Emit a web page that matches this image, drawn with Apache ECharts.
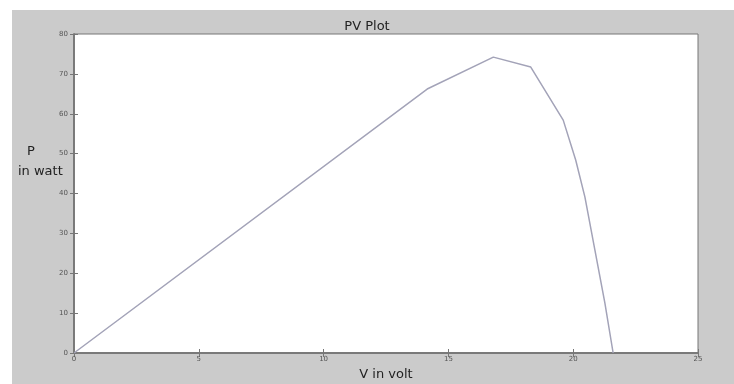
<!DOCTYPE html>
<html>
<head>
<meta charset="utf-8">
<script src="https://cdn.jsdelivr.net/npm/echarts@6/dist/echarts.min.js"></script>
<style>
  html, body { margin: 0; padding: 0; background: #fff; }
  #main { width: 734px; height: 384px; }
</style>
</head>
<body>
<div id="main"></div>
<script>
var voltage = [0, 14.15, 16.8, 18.3, 19.6, 20.1, 20.47, 20.87, 21.27, 21.6];
var power = [0, 66.2, 74.2, 71.7, 58.4, 48.4, 39.1, 25.8, 12.5, 0];

var points = [];
for (var i = 0; i < voltage.length; i++) {
    points.push([voltage[i], power[i]]);
}

var myChart = echarts.init(document.getElementById('main'));

var tickStyle = { show: true, inside: true, length: 4, lineStyle: { color: '#777' } };
var lineAxis = { show: true, lineStyle: { color: '#777', width: 1.5 } };
var labelStyle = { fontSize: 7, color: '#555', fontFamily: 'DejaVu Sans' };
var textFont = 'DejaVu Sans';

option = {
    animation: false,
    backgroundColor: '#fff',
    graphic: [{
        type: 'rect',
        z: -10,
        shape: { x: 12, y: 10, width: 722, height: 374 },
        style: { fill: '#cbcbcb' }
    }, {
        type: 'text',
        left: 27, top: 145,
        style: { text: 'P', fontSize: 13, fill: '#222', fontFamily: textFont }
    }, {
        type: 'text',
        left: 18, top: 165,
        style: { text: 'in watt', fontSize: 13, fill: '#222', fontFamily: textFont }
    }],
    title: {
        text: 'PV Plot',
        left: 'center',
        top: 15,
        textStyle: { fontSize: 13, fontWeight: 'normal', color: '#222', fontFamily: textFont }
    },
    grid: {
        left: 74, top: 34, right: 36, bottom: 31,
        outerBoundsMode: 'none',
        show: true,
        backgroundColor: '#fff',
        borderColor: '#777',
        borderWidth: 1
    },
    xAxis: [{
        type: 'value',
        min: 0, max: 25, interval: 5,
        name: 'V in volt',
        nameLocation: 'middle',
        nameGap: 13,
        nameTextStyle: { fontSize: 13, color: '#222', fontFamily: textFont },
        axisLine: lineAxis,
        axisTick: tickStyle,
        axisLabel: Object.assign({ margin: 3 }, labelStyle),
        splitLine: { show: false }
    }, {
        type: 'value',
        position: 'top',
        min: 0, max: 25, interval: 5,
        axisLine: lineAxis,
        axisTick: tickStyle,
        axisLabel: { show: false },
        splitLine: { show: false }
    }],
    yAxis: [{
        type: 'value',
        min: 0, max: 80, interval: 10,
        axisLine: lineAxis,
        axisTick: tickStyle,
        axisLabel: Object.assign({ margin: 6 }, labelStyle),
        splitLine: { show: false }
    }, {
        type: 'value',
        position: 'right',
        min: 0, max: 80, interval: 10,
        axisLine: lineAxis,
        axisTick: tickStyle,
        axisLabel: { show: false },
        splitLine: { show: false }
    }],
    series: [{
        type: 'line',
        data: points,
        showSymbol: false,
        lineStyle: { color: '#a3a3b8', width: 1.5 }
    }]
};
myChart.setOption(option);
</script>
</body>
</html>
